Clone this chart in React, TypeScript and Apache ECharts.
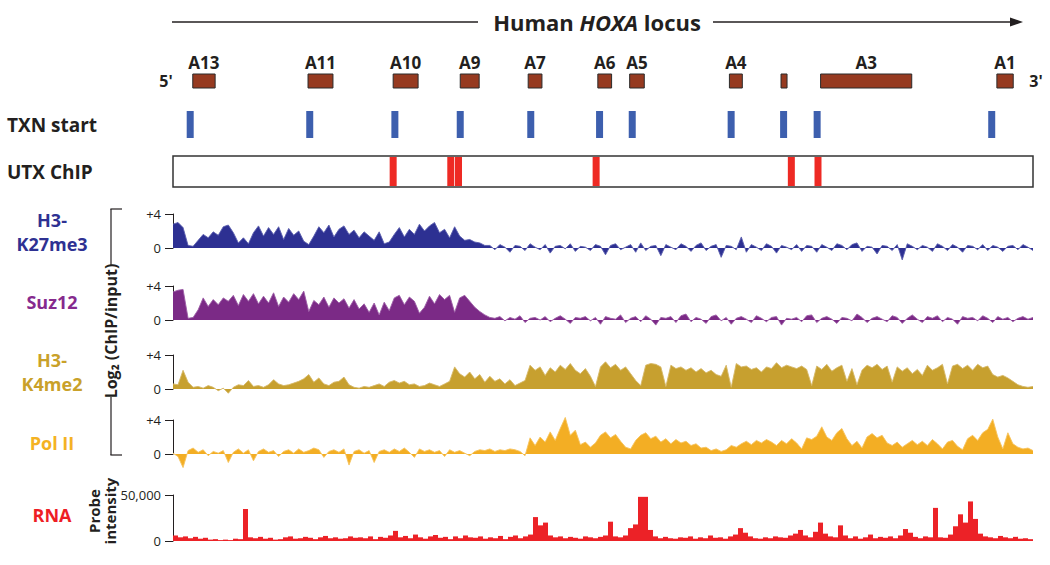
import React, { useEffect, useRef } from 'react';
import * as echarts from 'echarts';

// Locus coordinate (kb, 0-100) for gene models
const geneNames = ['A13', 'A11', 'A10', 'A9', 'A7', 'A6', 'A5', 'A4', '', 'A3', 'A1'];
const geneStarts = [2.3, 15.7, 25.6, 33.4, 41.3, 49.4, 53.1, 64.7, 70.7, 75.3, 95.8];
const geneEnds = [4.9, 18.6, 28.5, 35.6, 42.9, 51.0, 54.8, 66.2, 71.4, 85.9, 97.7];
const txnStarts = [2.0, 15.9, 25.8, 33.4, 41.6, 49.6, 53.4, 64.9, 71.0, 74.9, 95.2];
const utxPeaks = [25.6, 32.3, 33.2, 49.2, 71.9, 75.0];

// Log2(ChIP/input) tracks (172 probes across the locus)
const k27me3 = [
  2.8, 3.0, 2.4, 0.3, 0.2, 0.9, 1.6, 1.2, 1.9, 1.5, 2.5, 2.7, 1.8, 0.6, 1.2, 0.5, 1.8, 2.6, 1.4, 2.4,
  1.6, 2.5, 1.0, 2.3, 1.5, 2.0, 0.8, 0.4, 1.4, 2.5, 1.8, 2.7, 1.3, 2.2, 2.6, 1.6, 2.1, 1.2, 1.9, 1.4,
  0.9, 1.9, 0.5, 0.7, 1.6, 2.4, 1.3, 2.2, 1.6, 2.8, 2.0, 2.6, 3.0, 1.8, 2.2, 1.2, 2.5, 1.4, 0.9, 1.0,
  0.7, 0.6, 0.3,
  0.3, -0.2, 0.4, 0.1, -0.5, 0.3, 0.2, -0.3, 0.5, 0.1, -0.2, 0.4, -0.6, 0.2, 0.3, -0.1, 0.5, -0.4, 0.2, 0.1,
  -0.3, 0.4, 0.2, -0.8, 0.3, 0.5, -0.2, 0.1, 0.4, -0.5, 0.6, -0.3, 0.2, 0.3, -0.9, 0.4, 0.1, -0.2, 0.5, 0.2,
  -0.4, 0.3, 0.6, -0.3, 0.2, 0.4, -1.1, 0.3, 0.2, -0.2, 1.3, -0.5, 0.4, 0.1, -0.3, 0.5, 0.2, -0.6, 0.3, 0.1,
  -0.2, 0.4, -0.4, 0.3, 0.2, -0.5, 0.4, 0.1, -0.3, 0.5, 0.3, -0.2, 0.4, 0.6, -0.4, 0.2, 0.1, -0.7, 0.3, 0.2,
  -0.3, 0.4, -1.4, 0.5, 0.2, -0.2, 0.3, 0.1, -0.4, 0.5, 0.2, -0.3, 0.4, 0.1, -0.5, 0.3, 0.2, -0.2, 0.4, -0.3,
  0.3, 0.1, -0.4, 0.2, 0.3, -0.2, 0.4, 0.1, -0.3,
];
const suz12 = [
  3.3, 3.5, 3.6, 0.2, 0.3, 1.2, 2.6, 1.6, 2.4, 1.8, 2.6, 2.2, 2.9, 1.7, 3.0, 2.2, 3.1, 1.9, 2.8, 2.0,
  3.2, 1.6, 2.7, 2.1, 3.1, 2.4, 3.4, 1.0, 2.3, 1.8, 2.7, 1.5, 2.6, 2.0, 2.5, 1.4, 2.4, 1.3, 1.9, 0.9,
  2.0, 0.6, 2.1, 1.1, 2.6, 2.9, 1.8, 2.7, 2.2, 0.8, 1.5, 2.8, 1.9, 3.0, 2.4, 2.9, 0.9, 2.6, 2.9, 2.2,
  1.5, 1.0, 0.6, 0.3,
  0.2, 0.4, -0.1, 0.3, 0.1, 0.5, -0.3, 0.2, 0.3, 0.0, 0.4, -0.2, 0.2, 0.5, 0.1, -0.4, 0.3, 0.2, 0.4, -0.1,
  0.3, -0.5, 0.4, 0.2, 0.1, 0.6, -0.3, 0.2, 0.4, -0.2, 0.5, 0.1, -0.6, 0.3, 0.2, 0.4, -0.3, 0.5, 0.7, -0.2,
  0.3, 0.1, -0.4, 0.4, 0.6, -0.1, 0.3, -0.5, 0.2, 0.4, 0.1, -0.3, 0.5, 0.2, -0.2, 0.3, 0.4, -0.6, 0.2, 0.1,
  0.3, -0.2, 0.5, 0.6, -0.3, 0.2, 0.4, 0.1, -0.4, 0.3, 0.2, -0.1, 0.7, 0.3, -0.3, 0.2, 0.4, 0.1, -0.2, 0.5,
  0.3, -0.4, 0.2, 0.6, 0.1, -0.3, 0.4, 0.2, 0.5, -0.2, 0.3, 0.1, -0.5, 0.4, 0.2, 0.3, -0.1, 0.5, 0.2, -0.3,
  0.4, 0.1, 0.3, -0.2, 0.2, 0.4, 0.1, 0.3,
];
const k4me2 = [
  0.6, 0.5, 2.2, 0.8, 0.2, 0.3, 0.1, 0.4, 0.2, -0.2, 0.1, -0.5, 0.2, 0.5, 0.4, 1.0, 0.3, 0.4, 0.2, 0.5,
  1.1, 0.6, 0.4, 0.5, 0.7, 0.9, 1.2, 1.7, 0.8, 1.3, 0.6, 0.4, 0.8, 0.9, 1.4, 0.5, 0.2, 0.1, 0.3, 0.2,
  0.4, 0.6, 0.3, 0.8, 1.0, 0.7, 0.9, 0.5, 0.6, 0.3, 0.4, 0.7, 0.5, 0.3, 0.6, 0.9, 2.6, 1.8, 1.4, 2.0,
  1.2, 1.7, 0.8, 1.5, 0.9, 1.2, 0.6, 1.1, 0.4, 0.7, 1.0, 2.8, 2.2, 2.6, 1.6, 2.5, 2.0, 2.8, 2.3, 3.0,
  2.2, 1.8, 2.4, 1.5, 0.3, 2.6, 3.2, 2.5, 2.9, 2.2, 2.6, 1.8, 1.0, 0.4, 2.8, 3.0, 2.9, 2.6, 0.3, 2.8,
  2.4, 2.6, 2.2, 2.5, 2.0, 2.4, 1.9, 2.2, 1.7, 1.5, 2.8, 0.2, 3.0, 2.6, 2.7, 2.3, 2.5, 2.0, 2.6, 2.4,
  3.1, 2.5, 2.8, 2.6, 2.4, 2.7, 2.3, 0.4, 2.7, 2.3, 2.9, 2.1, 2.5, 2.8, 0.9, 2.4, 0.5, 2.2, 2.8, 2.5,
  2.9, 2.3, 2.7, 0.8, 2.6, 2.1, 2.5, 1.8, 2.3, 1.6, 2.8, 2.2, 2.5, 2.9, 0.6, 2.7, 2.9, 2.4, 2.8, 2.2,
  2.9, 2.5, 2.7, 1.7, 1.4, 1.6, 1.3, 0.9, 0.5, 0.3, 0.2, 0.3,
];
const polII = [
  0.1, -0.3, -1.6, 0.4, 0.7, 0.2, 0.5, -0.2, 0.3, 0.1, 0.4, -1.0, 0.2, 0.6, 0.1, 0.5, -0.8, 0.3, 0.6, 0.2,
  0.4, -0.3, 0.3, 0.5, 0.1, 0.6, 0.2, 0.4, 0.7, 0.5, -0.4, 0.3, 0.5, 0.2, 0.6, -1.3, 0.3, 0.5, 0.1, 0.4,
  -1.0, 0.3, 0.5, 0.2, 0.6, 0.3, 0.7, 0.2, -0.4, 0.6, 0.3, 0.5, 0.2, 0.4, -0.3, 0.5, 0.2, 0.4, 0.1, -0.2,
  0.3, 0.5, 0.4, 0.6, 0.3, 0.5, 0.4, 0.6, 0.5, 0.3, -0.2, 1.9, 1.0, 2.0, 1.4, 2.6, 1.6, 3.0, 4.3, 2.2,
  2.8, 1.1, 1.4, 0.8, 1.3, 2.2, 2.6, 1.9, 2.3, 1.5, 0.8, 0.6, 1.6, 2.2, 2.5, 1.8, 2.1, 1.4, 1.8, 1.2,
  1.7, 1.3, 1.5, 1.0, 1.2, 0.7, 0.8, 0.4, 0.6, 0.3, 0.5, 1.0, 0.8, 1.2, 1.5, 1.1, 1.6, 1.3, 1.7, 1.4,
  1.0, 1.6, 1.2, 1.8, 1.3, 0.6, 1.9, 1.7, 2.1, 3.2, 2.0, 1.6, 2.5, 3.0, 1.8, 1.0, 1.5, 0.7, 2.0, 2.4,
  1.9, 2.2, 1.3, 1.0, 1.4, 0.8, 1.2, 1.6, 1.1, 1.5, 1.0, 1.7, 1.2, 0.6, 1.4, 1.6, 0.9, 0.5, 1.8, 2.2,
  1.6, 2.5, 2.9, 4.1, 2.0, 0.6, 2.5, 1.2, 0.8, 0.6, 0.7, 0.4,
];
// RNA probe intensity
const rna = [
  6000, 4000, 5000, 3000, 4500, 2500, 3500, 1500, 2000, 1000, 1500, 1000, 2500, 2000, 34800, 4000, 3000, 4500, 2500, 3500,
  1500, 2000, 4000, 5000, 2500, 3000, 4500, 3500, 2000, 4000, 5500, 3000, 4000, 2500, 3000, 5000, 3500, 4000, 3000, 5000,
  2000, 4500, 3500, 6000, 11000, 4000, 5500, 3000, 7000, 4000, 2500, 5000, 6500, 3500, 4500, 2000, 5000, 3000, 6000, 4000,
  3500, 5000, 2500, 4000, 3000, 5500, 2000, 4500, 6000, 3000, 5000, 7000, 26000, 17000, 20000, 6000, 4000, 5000, 3000, 4500,
  3500, 2500, 5000, 4000, 3000, 4500, 6000, 21000, 5000, 4000, 6000, 14000, 18000, 48000, 48000, 12000, 5000, 3000, 4500, 3000,
  2500, 4000, 3500, 5000, 2500, 4000, 3000, 6000, 3500, 4000, 2500, 5000, 7000, 14000, 9000, 5000, 3000, 2500, 4000, 3000,
  5000, 4000, 3500, 6000, 8000, 12000, 6000, 4000, 10000, 20000, 8000, 5000, 4000, 17000, 6000, 3000, 5000, 2500, 4000, 7000,
  3000, 4500, 3500, 5000, 3000, 6000, 13000, 9000, 4500, 3000, 5000, 4000, 36000, 4000, 3500, 7000, 16000, 29000, 20000, 43000,
  24000, 8000, 5000, 4000, 3000, 5500, 4000, 3000, 4500, 2500, 3000, 2000,
];

const chipTicks = ['0', '+4'];
const rnaTicks = ['0', '50,000'];

const FONT = '"Open Sans", "Noto Sans", sans-serif';
const INK = '#231f20';

export default function App() {
  const ref = useRef<HTMLDivElement>(null);
  useEffect(() => {
    const chart = echarts.init(ref.current!, null, { renderer: 'svg' });
    const L = 173;
    const W = 860;
    const trackTops = [214, 286, 355, 420, 495];
    const trackH = [34, 34, 34, 34, 46];
    const grids: any[] = [
      { left: L, width: W, top: 74, height: 14 },
      { left: L, width: W, top: 111, height: 27 },
      { left: L, width: W, top: 156, height: 31, show: true, borderColor: '#333', borderWidth: 1.5, backgroundColor: 'transparent' },
    ];
    trackTops.forEach((t, i) => grids.push({ left: L, width: W, top: t, height: trackH[i] }));

    const xAxes: any[] = [];
    const yAxes: any[] = [];
    for (let g = 0; g < 3; g++) {
      xAxes.push({ gridIndex: g, type: 'value', min: 0, max: 100, show: false });
      yAxes.push({ gridIndex: g, type: 'value', min: 0, max: 1, show: false });
    }
    const idx = k27me3.map((_, i) => i);
    for (let g = 3; g < 8; g++) {
      const isRna = g === 7;
      xAxes.push({ gridIndex: g, type: 'category', data: idx, boundaryGap: isRna, show: false });
      yAxes.push({
        gridIndex: g,
        type: 'value',
        min: 0,
        max: isRna ? 50000 : 4,
        interval: isRna ? 50000 : 4,
        axisLine: { show: true, lineStyle: { color: INK, width: 1 } },
        axisTick: { show: true, length: 8, lineStyle: { color: INK, width: 1 } },
        splitLine: { show: false },
        axisLabel: {
          fontFamily: FONT,
          fontSize: 13,
          color: INK,
          margin: 12,
          formatter: (v: number) => (isRna ? (v === 0 ? rnaTicks[0] : rnaTicks[1]) : v === 0 ? chipTicks[0] : chipTicks[1]),
        },
      });
    }

    const chipSeries = (data: number[], g: number, fill: string, edge: string) => ({
      type: 'line',
      xAxisIndex: g,
      yAxisIndex: g,
      data,
      symbol: 'none',
      clip: false,
      silent: true,
      lineStyle: { color: edge, width: 0.9 },
      areaStyle: { color: fill, opacity: 1 },
    });

    const series: any[] = [
      {
        type: 'custom',
        xAxisIndex: 0,
        yAxisIndex: 0,
        data: geneStarts.map((s, i) => [s, geneEnds[i]]),
        renderItem: (params: any, api: any) => {
          const p0 = api.coord([api.value(0), 1]);
          const p1 = api.coord([api.value(1), 0]);
          const name = geneNames[params.dataIndex];
          return {
            type: 'group',
            children: [
              {
                type: 'rect',
                shape: { x: p0[0], y: p0[1], width: p1[0] - p0[0], height: p1[1] - p0[1] },
                style: { fill: '#963a20', stroke: '#2b2b2b', lineWidth: 1 },
              },
              {
                type: 'text',
                style: {
                  text: name,
                  x: (p0[0] + p1[0]) / 2,
                  y: p0[1] - 3,
                  align: 'center',
                  verticalAlign: 'bottom',
                  fill: INK,
                  font: `bold 17px ${FONT}`,
                },
              },
            ],
          };
        },
      },
      {
        type: 'custom',
        xAxisIndex: 1,
        yAxisIndex: 1,
        data: txnStarts.map((v) => [v]),
        renderItem: (_p: any, api: any) => {
          const b = api.coord([api.value(0), 0]);
          const t = api.coord([api.value(0), 1]);
          return { type: 'rect', shape: { x: b[0] - 3.5, y: t[1], width: 7, height: b[1] - t[1] }, style: { fill: '#3d5fae' } };
        },
      },
      {
        type: 'custom',
        xAxisIndex: 2,
        yAxisIndex: 2,
        data: utxPeaks.map((v) => [v]),
        renderItem: (_p: any, api: any) => {
          const b = api.coord([api.value(0), 0]);
          const t = api.coord([api.value(0), 1]);
          return { type: 'rect', shape: { x: b[0] - 3.5, y: t[1] + 1, width: 7, height: b[1] - t[1] - 2 }, style: { fill: '#ee2a24' } };
        },
      },
      chipSeries(k27me3, 3, '#2d3092', '#5a5eae'),
      chipSeries(suz12, 4, '#7b2a86', '#9c5ca6'),
      chipSeries(k4me2, 5, '#c7a02f', '#d6b866'),
      chipSeries(polII, 6, '#f3ae24', '#f6c35c'),
      {
        type: 'bar',
        xAxisIndex: 7,
        yAxisIndex: 7,
        data: rna,
        barCategoryGap: '0%',
        silent: true,
        itemStyle: { color: '#ec2227' },
      },
    ];

    const txt = (text: string, x: number, y: number, color: string, size: number, extra: any = {}) => ({
      type: 'text',
      x,
      y,
      silent: true,
      style: {
        text,
        fill: color,
        font: `bold ${size}px ${FONT}`,
        align: 'center',
        verticalAlign: 'middle',
        textAlign: 'center',
        textVerticalAlign: 'middle',
        ...extra,
      },
    });

    const graphic: any[] = [
      {
        type: 'text',
        x: 597,
        y: 22,
        style: {
          text: '{a|Human }{b|HOXA}{a| locus}',
          align: 'center',
          verticalAlign: 'middle',
          textAlign: 'center',
          textVerticalAlign: 'middle',
          rich: {
            a: { fontFamily: FONT, fontSize: 22, fontWeight: 'bold', fill: INK, color: INK },
            b: { fontFamily: FONT, fontSize: 22, fontWeight: 'bold', fontStyle: 'italic', fill: INK, color: INK },
          },
        },
      },
      { type: 'line', shape: { x1: 172, y1: 22, x2: 478, y2: 22 }, style: { stroke: INK, lineWidth: 1.5 } },
      { type: 'line', shape: { x1: 713, y1: 22, x2: 1014, y2: 22 }, style: { stroke: INK, lineWidth: 1.5 } },
      { type: 'polygon', shape: { points: [[1023, 22], [1010, 17.5], [1010, 26.5]] }, style: { fill: INK } },
      txt("5'", 166, 81, INK, 16),
      txt("3'", 1036, 81, INK, 16),
      txt('TXN start', 7, 125, INK, 19, { align: 'left', textAlign: 'left' }),
      txt('UTX ChIP', 7, 172, INK, 19, { align: 'left', textAlign: 'left' }),
      txt('H3-', 52, 220, '#2e3192', 18),
      txt('K27me3', 52, 244, '#2e3192', 18),
      txt('Suz12', 52, 302, '#862a8e', 18),
      txt('H3-', 52, 360, '#c9a12a', 18),
      txt('K4me2', 52, 384, '#c9a12a', 18),
      txt('Pol II', 52, 443, '#f4b223', 18),
      txt('RNA', 52, 515, '#ee1d25', 18),
      { type: 'line', shape: { x1: 111, y1: 209, x2: 111, y2: 266 }, style: { stroke: INK, lineWidth: 1.2 } },
      { type: 'line', shape: { x1: 111, y1: 397, x2: 111, y2: 455 }, style: { stroke: INK, lineWidth: 1.2 } },
      { type: 'line', shape: { x1: 110.4, y1: 209, x2: 122, y2: 209 }, style: { stroke: INK, lineWidth: 1.2 } },
      { type: 'line', shape: { x1: 110.4, y1: 455, x2: 122, y2: 455 }, style: { stroke: INK, lineWidth: 1.2 } },
      { ...txt('Log\u2082 (ChIP/input)', 0, 0, INK, 16), x: 111, y: 331, rotation: Math.PI / 2 },
      { ...txt('Probe', 0, 0, INK, 15), x: 94, y: 511, rotation: Math.PI / 2 },
      { ...txt('intensity', 0, 0, INK, 15), x: 110, y: 511, rotation: Math.PI / 2 },
    ];

    chart.setOption({
      animation: false,
      backgroundColor: '#ffffff',
      grid: grids,
      xAxis: xAxes,
      yAxis: yAxes,
      series,
      graphic,
    });
    return () => chart.dispose();
  }, []);
  return <div ref={ref} style={{ position: 'fixed', left: 0, top: 0, width: 1050, height: 565, background: '#fff' }} />;
}
